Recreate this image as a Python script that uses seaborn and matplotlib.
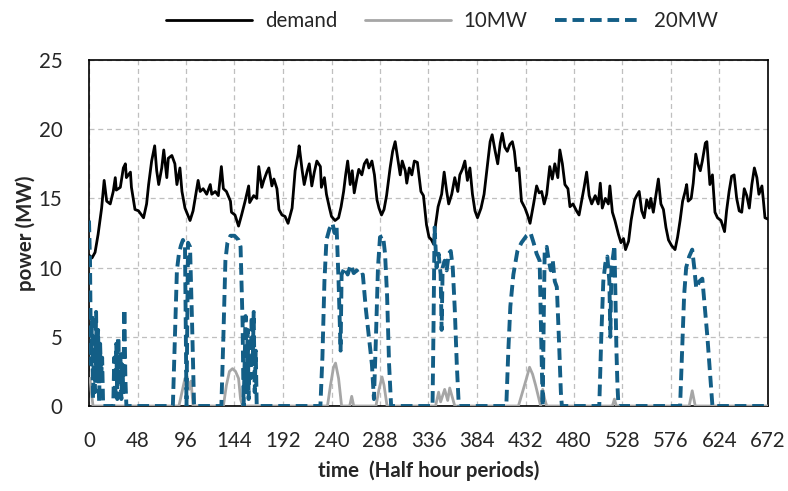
import numpy as np
import pandas as pd
import seaborn as sns
import matplotlib.pyplot as plt
from matplotlib.lines import Line2D

# ---------------- data ----------------
demand_t = [0, 3, 6, 9, 12.5, 15, 17.5, 21, 24, 26, 27, 31, 34, 36, 37, 41, 42, 45.5, 49, 54, 57, 59, 62, 65,
            67, 69, 72, 74, 77, 78.5, 82, 85, 87, 90, 92, 95, 100, 103, 108, 110, 113, 116.5, 120, 121.5, 125,
            128, 131, 133, 136, 140, 141, 144.5, 148, 151, 154.5, 158, 159, 163, 166, 168,
            171, 173, 176, 178, 181, 183, 186, 188, 191, 194, 197, 201, 204, 207, 208, 211, 213, 216, 218,
            220.5, 223, 225.5, 229, 230, 233, 235, 238, 240, 243.5, 247, 249.5, 252, 254, 256, 258.5, 260.5,
            262.5, 265, 267, 270, 272.5, 275, 277, 280, 282.5, 285, 287, 289.5, 292, 294.5, 298, 300.5, 303,
            305.5, 308, 310, 313, 314.5, 317, 319.5, 322, 325, 328.5, 331, 334, 336.5,
            339, 341, 343, 345.5, 349, 351.5, 354, 356, 359, 362, 365, 367, 369.5, 372, 374.5, 377, 379.5,
            382, 384.5, 388, 391, 394.5, 397, 399, 402, 404.5, 407, 409, 411.5, 414, 416.5, 419, 421, 423,
            425.5, 428, 431.5, 434, 436.5, 440, 443, 445.5, 448, 450.5, 453, 456, 458.5, 461, 464, 466,
            468.5, 471, 474, 476, 479, 482.5, 485, 487.5, 490, 492.5, 495, 497.5, 501, 504,
            506, 508, 511, 514, 515.5, 518, 520.5, 524, 526.5, 529, 531, 534, 536.5, 540, 542, 544.5, 547,
            549.5, 552, 554.5, 556, 558.5, 561, 563.5, 566, 568.5, 571, 573.5, 576.5, 580, 582.5, 585,
            587.5, 590, 591.5, 593, 596, 598, 600.5, 602.5, 605, 607, 610, 611.5, 613, 614.5, 617, 619.5,
            622, 625.5, 629, 631, 633.5, 636, 638.5, 641, 643.5, 646, 648.5, 651, 653.5, 656, 658.5, 661,
            663, 666, 667.5, 669, 672]
demand_v = [10.9, 10.7, 11.1, 12.4, 14.3, 16.3, 14.8, 14.6, 15.5, 16.5, 15.6, 15.8, 17.2, 17.5, 16.5, 16.9,
            15.8, 14.2, 14.1, 13.6, 14.6, 16.0, 17.7, 18.8, 17.0, 16.0, 17.2, 18.5, 16.5, 17.9, 18.1, 17.5,
            16.0, 17.2, 15.5, 14.3, 13.4, 14.1, 16.3, 15.5, 15.7, 15.3, 16.0, 15.3, 15.5, 15.2, 17.3, 15.7,
            15.5, 14.8, 14.0, 13.8, 13.0, 13.8, 14.8, 15.9, 14.7, 15.2, 15.0, 17.3,
            15.8, 16.3, 16.9, 17.2, 15.9, 16.4, 15.7, 14.2, 13.8, 13.7, 13.2, 14.3, 17.0, 18.2, 18.8, 17.0,
            16.0, 17.0, 17.5, 15.9, 16.9, 17.7, 17.3, 15.8, 16.5, 15.3, 14.3, 13.7, 13.4, 13.6, 14.4, 15.5,
            16.7, 17.7, 16.0, 17.0, 15.4, 16.4, 17.1, 16.7, 17.5, 17.8, 17.2, 17.7, 16.7, 14.9, 14.3, 13.8,
            14.2, 15.2, 17.2, 18.4, 19.1, 17.9, 16.7, 17.7, 17.0, 16.1, 17.2, 16.7, 17.7, 17.6, 15.5, 15.2,
            13.1, 12.2,
            12.0, 11.7, 13.1, 14.4, 15.3, 16.9, 15.5, 14.6, 15.3, 16.5, 15.5, 16.7, 17.1, 17.7, 16.3, 17.2,
            15.3, 14.1, 13.6, 14.3, 15.3, 17.5, 19.1, 19.6, 18.4, 17.5, 19.0, 19.7, 18.7, 18.4, 18.9, 19.1,
            18.4, 17.0, 17.2, 14.8, 14.3, 13.8, 13.2, 14.6, 15.9, 15.4, 15.5, 14.6, 15.3, 17.3, 16.4, 17.5,
            16.5, 18.5, 17.5, 16.0, 15.7, 14.4, 14.6, 14.1, 13.8, 14.8, 15.8, 16.9, 15.2, 14.6, 15.2, 14.6,
            16.1, 14.3, 15.0, 14.6, 15.9, 14.0, 13.4, 12.4, 11.8, 12.1, 11.3, 11.9, 13.4, 14.9, 15.2, 15.5,
            14.1, 13.6, 14.9, 14.3, 15.0, 14.0, 15.2, 16.4, 14.6, 14.2, 12.9, 12.0, 11.6, 11.3, 12.2, 13.4,
            14.8, 15.5, 16.0, 14.8, 15.0, 16.1, 18.2, 17.5, 17.0, 17.7, 19.0, 19.1, 17.5, 16.0, 16.7, 14.0,
            13.6, 13.4, 12.6, 14.1, 15.5, 16.6, 16.7, 15.0, 14.1, 14.0, 15.7, 15.2, 14.3, 16.0, 17.2, 16.5,
            15.3, 15.9, 14.8, 13.6, 13.5]

mw10_t = [0, 1, 2, 4, 89, 92, 95, 97, 99, 101, 103, 133, 136, 139, 142, 145, 148, 150, 152,
          236, 239, 242, 244, 247, 250, 258, 260, 262, 284, 287, 290, 292, 295,
          343, 346, 348, 352, 355, 357, 362, 425, 429, 433, 436, 439, 442, 445, 447, 449, 451, 453,
          518, 520, 522, 594, 597, 600, 672]
mw10_v = [1.8, 2.0, 1.2, 0, 0, 1.0, 2.0, 2.1, 1.2, 1.8, 0, 0, 1.5, 2.5, 2.7, 2.5, 2.0, 0.5, 0,
          0, 1.5, 2.8, 3.1, 2.0, 0, 0, 0.7, 0, 0, 1.2, 2.1, 1.5, 0,
          0, 1.0, 0.3, 1.2, 0.4, 1.3, 0, 0, 1.0, 2.0, 2.8, 2.3, 1.5, 0.6, 0, 1.2, 0.5, 0,
          0, 0.5, 0, 0, 1.1, 0, 0]

mw20_t = [0, 1, 2, 3, 4, 5, 6, 7, 8, 9, 10, 11, 12, 13, 14, 24, 25, 26, 27, 28, 29, 30, 31, 32, 33, 34,
          35, 36, 37, 83, 85, 87, 89, 91, 93, 95, 96.5, 98, 100, 102, 104, 131, 133, 135, 137, 140, 144,
          148, 150, 152, 153, 154, 155, 156, 157, 158, 159, 160, 161, 162, 163, 164, 165, 166,
          229, 231, 233, 235, 238, 241, 243, 245, 247, 249, 250, 253, 256, 259, 262, 265, 268, 271, 274,
          277, 280, 282, 284, 286, 288, 291, 293, 295, 297, 299,
          340, 341, 342, 344, 346, 348, 349, 350, 352, 354, 356, 358, 360, 362, 364, 366,
          413, 415, 417, 420, 424, 428, 433, 437, 440, 443, 446, 447.5, 449, 450, 451, 453, 455, 457,
          459, 461, 463, 465, 467, 468,
          505, 507, 509, 511, 513, 515, 516, 517, 519, 520, 521, 522, 523, 524,
          585, 587, 589, 591, 594, 597, 599, 601, 604, 607, 609, 612, 615, 617, 672]
mw20_v = [13.4, 10.5, 3.0, 6.5, 0.5, 5.0, 1.0, 6.8, 2.0, 5.5, 0.3, 4.5, 2.0, 3.5, 0, 0, 3.5, 1.0, 4.5,
          0.5, 5.0, 2.0, 4.0, 0.5, 3.0, 1.0, 7.0, 2.0, 0, 0, 5, 9.8, 11.0, 11.6, 12.0, 11.5, 0, 11.8,
          11.5, 6, 0, 0, 5, 10.5, 11.8, 12.3, 12.3, 12.0, 11.5, 6, 0, 3, 6.5, 1, 5.5, 0.5, 4.5, 2, 6.5,
          3, 6.8, 1, 4, 0,
          0, 3.5, 9, 12, 12.8, 13.2, 12.5, 13, 9, 4, 9.5, 10, 9.5, 10.2, 9.6, 9.8, 9.4, 9.5, 7,
          5, 3, 0.5, 5, 10, 12.2, 12.3, 11, 8, 3, 0,
          0, 6, 12.9, 10, 11, 9.5, 5.5, 10, 10.5, 9.8, 11, 11.2, 10, 7, 3, 0,
          0, 4, 7.2, 9.5, 11.2, 11.8, 12.3, 12.5, 11.8, 11, 10.5, 5, 0, 6, 11.3, 11.5, 10.5, 9.8,
          10.5, 9, 8.6, 5, 1, 0,
          0, 5, 9, 10.3, 10.8, 9, 5, 10, 11, 11.6, 8, 4, 1.5, 0,
          0, 4, 8, 10, 10.8, 11.3, 10, 8.5, 9, 9.2, 7.5, 5, 2, 0, 0]

x_ticks = list(range(0, 673, 48))
y_ticks = [0, 5, 10, 15, 20, 25]
series_labels = ["demand", "10MW", "20MW"]

# ---------------- styling ----------------
sns.set_theme(style="white")
plt.rcParams['font.family'] = ['Lato', 'DejaVu Sans']

C_DEM = "black"
C_10 = "#A6A6A6"
C_20 = "#135E86"
DASH20 = (0, (3, 1.5))
TXT = "#262626"
FS = 14.8

fig = plt.figure(figsize=(7.88, 4.91), dpi=100)
ax = fig.add_axes([89 / 788, 1 - 406 / 491, (768 - 89) / 788, (406 - 60) / 491])

df_d = pd.DataFrame({"t": demand_t, "v": demand_v})
df_10 = pd.DataFrame({"t": mw10_t, "v": mw10_v})
df_20 = pd.DataFrame({"t": mw20_t, "v": mw20_v})

sns.lineplot(data=df_d, x="t", y="v", ax=ax, color=C_DEM, lw=2.0, estimator=None, sort=False, zorder=3)
sns.lineplot(data=df_10, x="t", y="v", ax=ax, color=C_10, lw=2.0, estimator=None, sort=False, zorder=4)
sns.lineplot(data=df_20, x="t", y="v", ax=ax, color=C_20, lw=2.8, estimator=None, sort=False, zorder=5)
ax.lines[-1].set_linestyle(DASH20)

ax.set_xlim(0, 672)
ax.set_ylim(0, 25)
ax.set_xticks(x_ticks)
ax.set_yticks(y_ticks)
ax.set_axisbelow(True)
ax.grid(True, color="#BFBFBF", linestyle=(0, (4, 3)), lw=0.9)

for s in ax.spines.values():
    s.set_visible(True)
    s.set_color("black")
    s.set_linewidth(1.2)

ax.tick_params(axis="both", direction="out", length=6, width=1, color="black",
               labelcolor=TXT, labelsize=FS)
ax.tick_params(axis="y", pad=13)
ax.tick_params(axis="x", pad=12)

ax.set_xlabel("time  (Half hour periods)", fontsize=FS, fontweight="bold", color=TXT, labelpad=7)
ax.set_ylabel("power (MW)", fontsize=FS, fontweight="bold", color=TXT, labelpad=2)

handles = [Line2D([], [], color=C_DEM, lw=2.0),
           Line2D([], [], color=C_10, lw=2.0),
           Line2D([], [], color=C_20, lw=2.8, linestyle=DASH20)]
leg = fig.legend(handles, series_labels, loc="center", bbox_to_anchor=(0.561, 0.957), ncol=3,
                 frameon=False, handlelength=4.2, handletextpad=0.6, columnspacing=1.35, fontsize=FS)
for t in leg.get_texts():
    t.set_color(TXT)

fig.savefig("out.png", dpi=100)
